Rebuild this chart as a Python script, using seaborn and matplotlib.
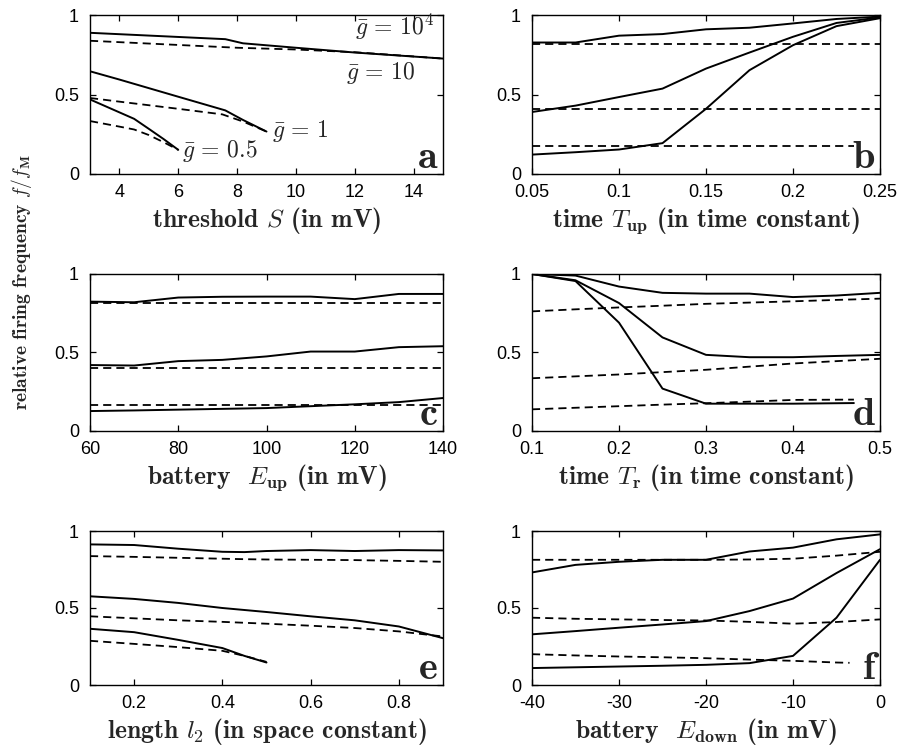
import matplotlib
matplotlib.use("Agg")
import matplotlib.pyplot as plt
import seaborn as sns
import numpy as np

# ---------------- data ----------------
# panel a: threshold S (mV)
a_x_top = [3, 7.6, 8.2, 10, 12, 15]
a_solid_top = [0.888, 0.848, 0.822, 0.794, 0.764, 0.726]
a_x_top_d = [3, 8, 10, 12, 15]
a_dash_top = [0.838, 0.794, 0.783, 0.766, 0.726]
a_x_mid = [3, 4, 6, 7.6, 8.2, 9]
a_solid_mid = [0.646, 0.594, 0.486, 0.40, 0.34, 0.267]
a_x_mid_d = [3, 4, 6, 7.5, 8.2, 9]
a_dash_mid = [0.478, 0.455, 0.41, 0.375, 0.33, 0.267]
a_x_low = [3, 4.5, 5, 5.5, 6]
a_solid_low = [0.469, 0.347, 0.284, 0.22, 0.152]
a_x_low_d = [3, 4, 4.5, 5, 5.5, 6]
a_dash_low = [0.333, 0.298, 0.28, 0.245, 0.2, 0.152]

# panel b: time T_up
b_x = [0.05, 0.075, 0.1, 0.125, 0.15, 0.175, 0.2, 0.225, 0.25]
b_solid_top = [0.827, 0.827, 0.87, 0.88, 0.91, 0.92, 0.947, 0.975, 0.99]
b_dash_top = [0.82, 0.82, 0.82, 0.82, 0.82, 0.82, 0.82, 0.82, 0.82]
b_solid_mid = [0.39, 0.43, 0.484, 0.537, 0.663, 0.764, 0.863, 0.95, 0.985]
b_dash_mid = [0.41, 0.41, 0.41, 0.41, 0.41, 0.41, 0.41, 0.41, 0.41]
b_solid_low = [0.122, 0.137, 0.154, 0.194, 0.41, 0.653, 0.81, 0.93, 0.98]
b_x_low_d = [0.05, 0.1, 0.15, 0.2, 0.235]
b_dash_low = [0.173, 0.173, 0.173, 0.173, 0.173]

# panel c: battery E_up
c_x = [60, 70, 80, 90, 100, 110, 120, 130, 140]
c_solid_top = [0.824, 0.82, 0.85, 0.855, 0.856, 0.856, 0.84, 0.873, 0.873]
c_dash_top = [0.816, 0.816, 0.816, 0.816, 0.816, 0.816, 0.816, 0.816, 0.816]
c_solid_mid = [0.42, 0.417, 0.445, 0.453, 0.475, 0.506, 0.506, 0.534, 0.54]
c_dash_mid = [0.403, 0.403, 0.403, 0.403, 0.403, 0.403, 0.403, 0.403, 0.403]
c_solid_low = [0.127, 0.131, 0.136, 0.141, 0.146, 0.158, 0.17, 0.184, 0.21]
c_dash_low = [0.163, 0.163, 0.163, 0.163, 0.163, 0.163, 0.163, 0.163, 0.163]

# panel d: time T_r
d_x = [0.1, 0.15, 0.2, 0.25, 0.3, 0.35, 0.4, 0.45, 0.5]
d_solid_top = [1.0, 0.99, 0.92, 0.88, 0.875, 0.875, 0.853, 0.863, 0.88]
d_dash_top = [0.762, 0.775, 0.787, 0.798, 0.81, 0.818, 0.826, 0.835, 0.843]
d_solid_mid = [1.0, 0.96, 0.815, 0.596, 0.485, 0.47, 0.47, 0.478, 0.485]
d_dash_mid = [0.336, 0.348, 0.36, 0.375, 0.39, 0.41, 0.43, 0.445, 0.46]
d_x_low = [0.1, 0.15, 0.2, 0.25, 0.3, 0.35, 0.4, 0.47]
d_solid_low = [1.0, 0.955, 0.69, 0.27, 0.174, 0.174, 0.174, 0.178]
d_dash_low = [0.138, 0.148, 0.158, 0.168, 0.177, 0.187, 0.198, 0.2]

# panel e: length l_2
e_x = [0.1, 0.2, 0.3, 0.4, 0.45, 0.5, 0.6, 0.7, 0.8, 0.9]
e_solid_top = [0.913, 0.909, 0.885, 0.865, 0.863, 0.87, 0.876, 0.87, 0.876, 0.874]
e_dash_top = [0.837, 0.832, 0.826, 0.82, 0.817, 0.815, 0.813, 0.811, 0.806, 0.8]
e_solid_mid = [0.576, 0.559, 0.533, 0.5, 0.487, 0.474, 0.446, 0.42, 0.38, 0.304]
e_dash_mid = [0.446, 0.433, 0.42, 0.41, 0.404, 0.398, 0.385, 0.37, 0.348, 0.315]
e_x_low = [0.1, 0.2, 0.3, 0.4, 0.45, 0.5]
e_solid_low = [0.365, 0.343, 0.293, 0.24, 0.189, 0.146]
e_dash_low = [0.287, 0.267, 0.246, 0.222, 0.189, 0.15]

# panel f: battery E_down
f_x = [-40, -35, -30, -25, -20, -15, -10, -5, 0]
f_solid_top = [0.731, 0.78, 0.8, 0.813, 0.813, 0.867, 0.892, 0.946, 0.978]
f_dash_top = [0.813, 0.813, 0.813, 0.813, 0.813, 0.815, 0.82, 0.84, 0.865]
f_solid_mid = [0.329, 0.35, 0.372, 0.393, 0.415, 0.48, 0.561, 0.727, 0.882]
f_dash_mid = [0.437, 0.43, 0.426, 0.422, 0.419, 0.41, 0.398, 0.409, 0.426]
f_solid_low = [0.11, 0.115, 0.12, 0.125, 0.131, 0.142, 0.189, 0.437, 0.813]
f_x_low_d = [-40, -35, -30, -25, -20, -15, -10, -5, -3.5]
f_dash_low = [0.2, 0.192, 0.185, 0.18, 0.174, 0.165, 0.157, 0.146, 0.144]

# axis settings / labels
y_ticks = [0, 0.5, 1]
y_ticklabels = ["0", "0.5", "1"]
a_xticks = [4, 6, 8, 10, 12, 14]
a_xticklabels = ["4", "6", "8", "10", "12", "14"]
b_xticks = [0.05, 0.1, 0.15, 0.2, 0.25]
b_xticklabels = ["0.05", "0.1", "0.15", "0.2", "0.25"]
c_xticks = [60, 80, 100, 120, 140]
c_xticklabels = ["60", "80", "100", "120", "140"]
d_xticks = [0.1, 0.2, 0.3, 0.4, 0.5]
d_xticklabels = ["0.1", "0.2", "0.3", "0.4", "0.5"]
e_xticks = [0.2, 0.4, 0.6, 0.8]
e_xticklabels = ["0.2", "0.4", "0.6", "0.8"]
f_xticks = [-40, -30, -20, -10, 0]
f_xticklabels = ["-40", "-30", "-20", "-10", "0"]

xlabels = {
    "a": r"threshold $S$ (in mV)",
    "b": r"time $T_{\mathbf{up}}$ (in time constant)",
    "c": r"battery  $E_{\mathbf{up}}$ (in mV)",
    "d": r"time $T_{\mathbf{r}}$ (in time constant)",
    "e": r"length $l_2$ (in space constant)",
    "f": r"battery  $E_{\mathbf{down}}$ (in mV)",
}
ylabel_text = r"relative firing frequency $f/f_{\mathbf{M}}$"
g_labels = [r"$\bar{g}\mathbf{\,=\,10^4}$", r"$\bar{g}\mathbf{\,=\,10}$",
            r"$\bar{g}\mathbf{\,=\,1}$", r"$\bar{g}\mathbf{\,=\,0.5}$"]
g_label_pos = [(12.0, 0.875), (11.7, 0.60), (9.2, 0.233), (6.13, 0.107)]

# ---------------- style ----------------
sns.set_theme(style="ticks")
plt.rcParams["font.family"] = ["Liberation Sans", "DejaVu Sans"]
plt.rcParams["mathtext.fontset"] = "cm"
plt.rcParams["axes.unicode_minus"] = False

W, H = 899, 752
fig = plt.figure(figsize=(W / 100, H / 100), dpi=100)

col_x = [(90, 443), (532, 880)]
row_y = [(15, 174), (274, 431), (531, 685)]

SOLID = dict(color="black", linewidth=1.4, linestyle="-")
DASH = dict(color="black", linewidth=1.3, linestyle=(0, (4.5, 2.8)))

LABEL_FONT = "cmb10"


def make_ax(r, c):
    x0, x1 = col_x[c]
    y0, y1 = row_y[r]
    return fig.add_axes([x0 / W, 1 - y1 / H, (x1 - x0) / W, (y1 - y0) / H]), (y1 - y0)


def line(ax, x, y, style):
    sns.lineplot(x=x, y=y, ax=ax, estimator=None, sort=False, **style)


def finish(ax, hpx, xlim, xticks, xticklabels, letter, xlabel):
    ax.set_xlim(*xlim)
    ax.set_ylim(0, 1)
    ax.set_xticks(xticks)
    ax.set_xticklabels(xticklabels, fontsize=13)
    ax.set_yticks(y_ticks)
    ax.set_yticklabels(y_ticklabels, fontsize=13)
    ax.tick_params(direction="in", length=4, width=0.9, top=True, right=True,
                   colors="black")
    ax.tick_params(axis="x", pad=7)
    ax.tick_params(axis="y", pad=8)
    for s in ax.spines.values():
        s.set_visible(True)
        s.set_color("black")
        s.set_linewidth(1.0)
    ax.set_xlabel(xlabel, fontsize=18.5, fontfamily=LABEL_FONT)
    ax.xaxis.set_label_coords(0.5, -31 / hpx)
    ax.set_ylabel("")
    ax.text(0.985, 0.04, letter, transform=ax.transAxes, ha="right",
            va="baseline", fontsize=29, fontfamily=LABEL_FONT, zorder=5)


# panel a
ax, h = make_ax(0, 0)
line(ax, a_x_top, a_solid_top, SOLID)
line(ax, a_x_top_d, a_dash_top, DASH)
line(ax, a_x_mid, a_solid_mid, SOLID)
line(ax, a_x_mid_d, a_dash_mid, DASH)
line(ax, a_x_low, a_solid_low, SOLID)
line(ax, a_x_low_d, a_dash_low, DASH)
for txt, (gx, gy) in zip(g_labels, g_label_pos):
    ax.text(gx, gy, txt, fontsize=17, ha="left", va="baseline")
finish(ax, h, (3, 15), a_xticks, a_xticklabels, "a", xlabels["a"])

# panel b
ax, h = make_ax(0, 1)
for ys, st in [(b_solid_top, SOLID), (b_dash_top, DASH), (b_solid_mid, SOLID),
               (b_dash_mid, DASH), (b_solid_low, SOLID)]:
    line(ax, b_x, ys, st)
line(ax, b_x_low_d, b_dash_low, DASH)
finish(ax, h, (0.05, 0.25), b_xticks, b_xticklabels, "b", xlabels["b"])

# panel c
ax, h = make_ax(1, 0)
for ys, st in [(c_solid_top, SOLID), (c_dash_top, DASH), (c_solid_mid, SOLID),
               (c_dash_mid, DASH), (c_solid_low, SOLID), (c_dash_low, DASH)]:
    line(ax, c_x, ys, st)
finish(ax, h, (60, 140), c_xticks, c_xticklabels, "c", xlabels["c"])

# panel d
ax, h = make_ax(1, 1)
for ys, st in [(d_solid_top, SOLID), (d_dash_top, DASH), (d_solid_mid, SOLID),
               (d_dash_mid, DASH)]:
    line(ax, d_x, ys, st)
line(ax, d_x_low, d_solid_low, SOLID)
line(ax, d_x_low, d_dash_low, DASH)
finish(ax, h, (0.1, 0.5), d_xticks, d_xticklabels, "d", xlabels["d"])

# panel e
ax, h = make_ax(2, 0)
line(ax, e_x, e_solid_top, SOLID)
line(ax, e_x, e_dash_top, DASH)
line(ax, e_x, e_solid_mid, SOLID)
line(ax, e_x, e_dash_mid, DASH)
line(ax, e_x_low, e_solid_low, SOLID)
line(ax, e_x_low, e_dash_low, DASH)
finish(ax, h, (0.1, 0.9), e_xticks, e_xticklabels, "e", xlabels["e"])

# panel f
ax, h = make_ax(2, 1)
for ys, st in [(f_solid_top, SOLID), (f_dash_top, DASH), (f_solid_mid, SOLID),
               (f_dash_mid, DASH), (f_solid_low, SOLID)]:
    line(ax, f_x, ys, st)
line(ax, f_x_low_d, f_dash_low, DASH)
finish(ax, h, (-40, 0), f_xticks, f_xticklabels, "f", xlabels["f"])

fig.text(22 / W, 1 - 282 / H, ylabel_text, rotation=90, ha="center",
         va="center", fontsize=14, fontfamily=LABEL_FONT)

fig.savefig("out.png", dpi=100, facecolor="white")
